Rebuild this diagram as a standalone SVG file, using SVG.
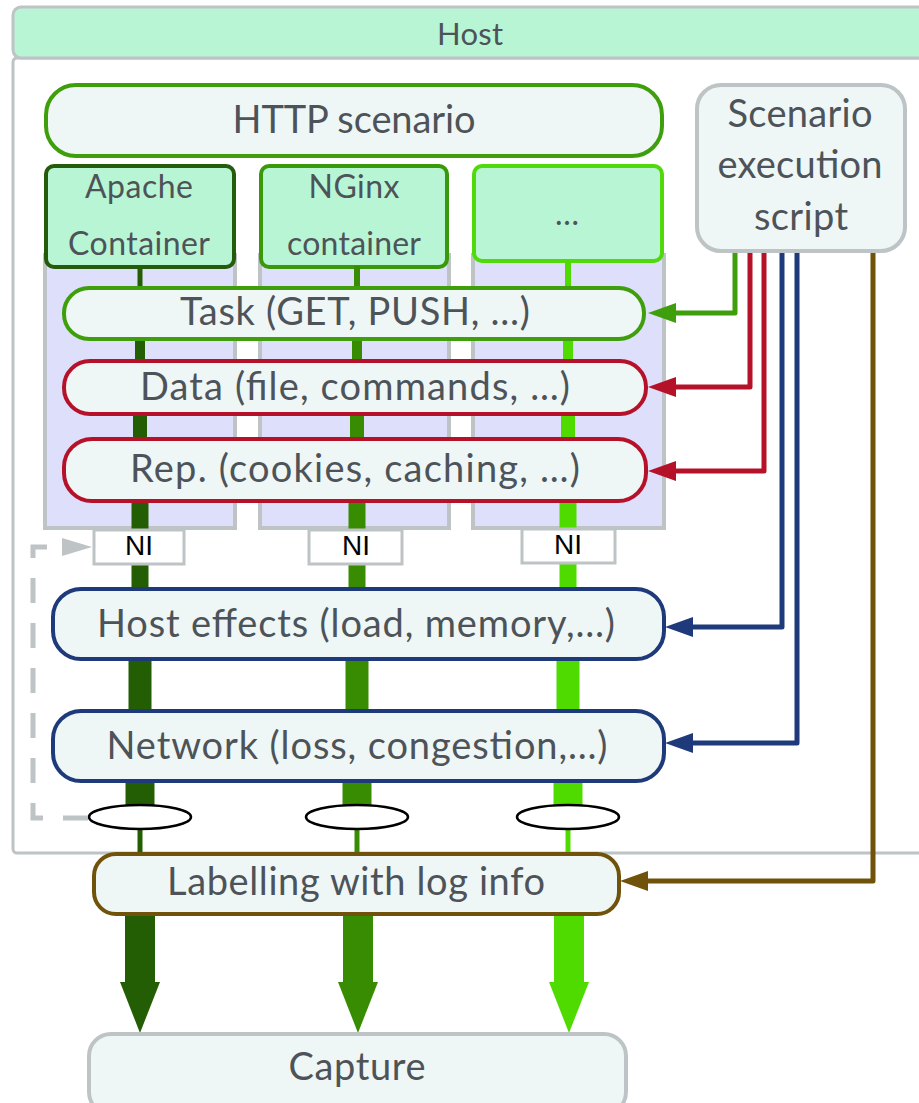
<svg xmlns="http://www.w3.org/2000/svg" width="919" height="1103" viewBox="0 0 919 1103">
<defs>
<style>
.lbl{font-family:"Lato","Noto Sans",sans-serif;fill:#4d5358;text-anchor:middle}
.big{font-size:38px}
.mid{font-size:32px}
.ni{font-family:"Liberation Sans",Arial,sans-serif;font-size:28px;fill:#000;text-anchor:middle}
.node{fill:#eef7f6;stroke-width:4}
.col{fill:#dedffb;stroke:#bec3c5;stroke-width:4}
.nibox{fill:#fff;stroke:#bec3c5;stroke-width:3}
.ell{fill:#fff;stroke:#000;stroke-width:2.5}
.conn{fill:none;stroke-width:5;stroke-linejoin:round}
</style>
<marker id="ahG" markerUnits="userSpaceOnUse" markerWidth="28" markerHeight="20" viewBox="0 0 28 20" refX="0" refY="10" orient="auto"><path d="M0,0 L28,10 L0,20 z" fill="#3f9e0c"/></marker>
<marker id="ahR" markerUnits="userSpaceOnUse" markerWidth="28" markerHeight="20" viewBox="0 0 28 20" refX="0" refY="10" orient="auto"><path d="M0,0 L28,10 L0,20 z" fill="#b5122a"/></marker>
<marker id="ahB" markerUnits="userSpaceOnUse" markerWidth="28" markerHeight="20" viewBox="0 0 28 20" refX="0" refY="10" orient="auto"><path d="M0,0 L28,10 L0,20 z" fill="#1f3a7a"/></marker>
<marker id="ahN" markerUnits="userSpaceOnUse" markerWidth="28" markerHeight="20" viewBox="0 0 28 20" refX="0" refY="10" orient="auto"><path d="M0,0 L28,10 L0,20 z" fill="#70520a"/></marker>
<marker id="ahGr" markerUnits="userSpaceOnUse" markerWidth="30" markerHeight="18" viewBox="0 0 30 18" refX="0" refY="9" orient="auto"><path d="M0,0 L30,9 L0,18 z" fill="#bec3c5"/></marker>
</defs>

<g id="host">
<rect x="13" y="58" width="914" height="795" rx="4" fill="#fff" stroke="#bec3c5" stroke-width="3"/>
<rect x="13" y="7" width="914" height="51" rx="8" fill="#b8f5d5" stroke="#bec3c5" stroke-width="3"/>
<text class="lbl" x="470" y="45" font-size="31" textLength="66">Host</text>
</g>

<g id="columns">
<rect class="col" x="45" y="255" width="190" height="273"/>
<rect class="col" x="260" y="255" width="189" height="273"/>
<rect class="col" x="473" y="255" width="191" height="273"/>
</g>

<g id="http-scenario">
<rect class="node" x="46" y="85" width="616" height="71" rx="30" stroke="#3f9e0c"/>
<text class="lbl big" x="354" y="133" textLength="243">HTTP scenario</text>
</g>

<g id="apache">
<rect x="46" y="166" width="188" height="101" rx="8" fill="#b8f5d5" stroke="#245c0b" stroke-width="4"/>
<text class="lbl mid" x="139" y="198" textLength="108">Apache</text>
<text class="lbl mid" x="139" y="255" textLength="142">Container</text>
</g>
<g id="nginx">
<rect x="261" y="166" width="186" height="101" rx="8" fill="#b8f5d5" stroke="#3a990b" stroke-width="4"/>
<text class="lbl mid" x="354" y="198" textLength="91">NGinx</text>
<text class="lbl mid" x="354" y="255" textLength="134">container</text>
</g>
<g id="other">
<rect x="474" y="166" width="188" height="95" rx="8" fill="#b8f5d5" stroke="#52d90b" stroke-width="4"/>
<text class="lbl mid" x="567" y="225">…</text>
</g>

<g id="flows">
<g stroke="#245e04">
<line x1="140" y1="266" x2="140" y2="290" stroke-width="5"/>
<line x1="140" y1="338" x2="140" y2="362" stroke-width="10"/>
<line x1="140" y1="413" x2="140" y2="441" stroke-width="14"/>
<line x1="140" y1="500" x2="140" y2="590" stroke-width="17"/>
<line x1="140" y1="657" x2="140" y2="713" stroke-width="23"/>
<line x1="140" y1="779" x2="140" y2="810" stroke-width="29"/>
<line x1="140" y1="825" x2="140" y2="856" stroke-width="5"/>
<line x1="140" y1="912" x2="140" y2="983" stroke-width="30"/>
<polygon points="120,982 160,982 140,1033" fill="#245e04" stroke="none"/>
</g>
<g stroke="#388c02">
<line x1="357" y1="266" x2="357" y2="290" stroke-width="6"/>
<line x1="357" y1="338" x2="357" y2="362" stroke-width="10"/>
<line x1="357" y1="413" x2="357" y2="441" stroke-width="14"/>
<line x1="357" y1="500" x2="357" y2="590" stroke-width="17"/>
<line x1="357" y1="657" x2="357" y2="713" stroke-width="23"/>
<line x1="357" y1="779" x2="357" y2="810" stroke-width="29"/>
<line x1="357" y1="825" x2="357" y2="856" stroke-width="5"/>
<line x1="358" y1="912" x2="358" y2="983" stroke-width="30"/>
<polygon points="338,982 378,982 358,1033" fill="#388c02" stroke="none"/>
</g>
<g stroke="#4fdb00">
<line x1="568" y1="260" x2="568" y2="290" stroke-width="6"/>
<line x1="568" y1="338" x2="568" y2="362" stroke-width="10"/>
<line x1="568" y1="413" x2="568" y2="441" stroke-width="14"/>
<line x1="568" y1="500" x2="568" y2="590" stroke-width="17"/>
<line x1="568" y1="657" x2="568" y2="713" stroke-width="23"/>
<line x1="568" y1="779" x2="568" y2="810" stroke-width="29"/>
<line x1="568" y1="825" x2="568" y2="856" stroke-width="5"/>
<line x1="569" y1="912" x2="569" y2="983" stroke-width="30"/>
<polygon points="549,982 589,982 569,1033" fill="#4fdb00" stroke="none"/>
</g>
</g>

<g id="task">
<rect class="node" x="64" y="288" width="580" height="51" rx="25" stroke="#3f9e0c"/>
<text class="lbl big" x="355" y="325" textLength="350">Task (GET, PUSH, …)</text>
</g>
<g id="data">
<rect class="node" x="64" y="361" width="582" height="53" rx="26" stroke="#b5122a"/>
<text class="lbl big" x="355" y="400" textLength="430">Data (file, commands, …)</text>
</g>
<g id="rep">
<rect class="node" x="64" y="439" width="582" height="62" rx="28" stroke="#b5122a"/>
<text class="lbl big" x="355" y="482" textLength="450">Rep. (cookies, caching, …)</text>
</g>

<g id="ni-apache">
<rect class="nibox" x="94" y="530" width="90" height="34"/>
<text class="ni" x="139" y="555">NI</text>
</g>
<g id="ni-nginx">
<rect class="nibox" x="309" y="530" width="93" height="34"/>
<text class="ni" x="356" y="555">NI</text>
</g>
<g id="ni-other">
<rect class="nibox" x="522" y="529" width="93" height="34"/>
<text class="ni" x="568" y="554">NI</text>
</g>

<g id="host-effects">
<rect class="node" x="53" y="589" width="611" height="70" rx="28" stroke="#1f3a7a"/>
<text class="lbl big" x="356" y="637" textLength="518">Host effects (load, memory,…)</text>
</g>
<g id="network">
<rect class="node" x="53" y="711" width="611" height="70" rx="28" stroke="#1f3a7a"/>
<text class="lbl big" x="357" y="759" textLength="501">Network (loss, congestion,…)</text>
</g>

<g id="capture-points">
<ellipse class="ell" cx="140" cy="817" rx="51" ry="12"/>
<ellipse class="ell" cx="357" cy="817" rx="51" ry="12"/>
<ellipse class="ell" cx="568" cy="817" rx="51" ry="12"/>
</g>

<g id="labelling">
<rect class="node" x="94" y="854" width="525" height="60" rx="22" stroke="#70520a"/>
<text class="lbl big" x="356" y="895" textLength="378">Labelling with log info</text>
</g>

<g id="capture">
<rect class="node" x="89" y="1034" width="537" height="80" rx="22" stroke="#bec3c5"/>
<text class="lbl big" x="357" y="1080" textLength="137">Capture</text>
</g>

<g id="script">
<rect class="node" x="697" y="85" width="208" height="166" rx="24" stroke="#bec3c5"/>
<text class="lbl big" x="800" y="127" textLength="145">Scenario</text>
<text class="lbl big" x="800" y="178" textLength="165">execution</text>
<text class="lbl big" x="801" y="230" textLength="94">script</text>
</g>

<g id="connectors">
<path class="conn" d="M735,253 V313 H676" stroke="#3f9e0c" marker-end="url(#ahG)"/>
<path class="conn" d="M750,253 V387 H676" stroke="#b5122a" marker-end="url(#ahR)"/>
<path class="conn" d="M764,253 V471 H676" stroke="#b5122a" marker-end="url(#ahR)"/>
<path class="conn" d="M782,253 V627 H693" stroke="#1f3a7a" marker-end="url(#ahB)"/>
<path class="conn" d="M797,253 V743 H693" stroke="#1f3a7a" marker-end="url(#ahB)"/>
<path class="conn" d="M873,253 V881 H648" stroke="#70520a" marker-end="url(#ahN)"/>
<path d="M88,818 H33 V547 H62" fill="none" stroke="#bec3c5" stroke-width="5" stroke-dasharray="25 20" marker-end="url(#ahGr)"/>
</g>
</svg>
